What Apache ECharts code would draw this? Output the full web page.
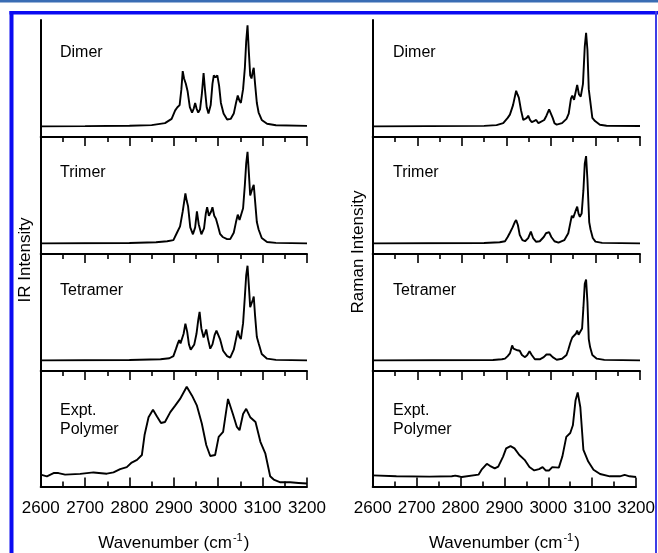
<!DOCTYPE html>
<html>
<head>
<meta charset="utf-8">
<script src="https://cdn.jsdelivr.net/npm/echarts@6/dist/echarts.min.js"></script>
<style>
  html, body { margin: 0; padding: 0; background: #fff; }
  #chart { width: 658px; height: 553px; }
</style>
</head>
<body>
<div id="chart"></div>
<script>
// Wavenumber axis (cm^-1)
const xMin = 2600;
const xMax = 3200;
const xStep = 100;

const panelNames = ['Dimer', 'Trimer', 'Tetramer', 'Expt.\nPolymer'];
const yTitles = ['IR Intensity', 'Raman Intensity'];
const xTitle = 'Wavenumber (cm';
const xTitleSup = '-1';

// Computed IR spectra: [wavenumber, intensity]
const irDimer = [
  [2600,0],[2700,0.002],[2800,0.006],[2850,0.012],[2880,0.03],[2895,0.07],[2903,0.15],[2908,0.18],
  [2913,0.2],[2917,0.35],[2920,0.52],[2923,0.45],[2927,0.40],[2931,0.33],[2936,0.18],[2941,0.13],
  [2945,0.17],[2948,0.22],[2951,0.17],[2955,0.13],[2959,0.16],[2963,0.30],[2967,0.50],[2970,0.35],
  [2974,0.18],[2978,0.12],[2983,0.2],[2987,0.40],[2990,0.48],[2994,0.46],[2998,0.48],[3002,0.38],
  [3006,0.22],[3012,0.12],[3020,0.065],[3028,0.07],[3035,0.12],[3040,0.22],[3044,0.29],[3048,0.24],
  [3051,0.22],[3056,0.35],[3060,0.55],[3063,0.80],[3066,0.95],[3069,0.70],[3072,0.48],[3075,0.45],
  [3078,0.52],[3080,0.55],[3083,0.40],[3087,0.22],[3091,0.13],[3098,0.06],[3110,0.025],[3130,0.01],[3200,0.005]
];
const irTrimer = [
  [2600,0],[2800,0.004],[2860,0.01],[2885,0.02],[2899,0.03],[2907,0.10],[2914,0.16],[2920,0.3],
  [2926,0.47],[2929,0.40],[2932,0.35],[2937,0.15],[2943,0.085],[2948,0.15],[2952,0.30],[2956,0.18],
  [2962,0.085],[2968,0.14],[2972,0.28],[2975,0.34],[2979,0.26],[2981,0.26],[2984,0.3],[2987,0.34],
  [2991,0.26],[2995,0.23],[2999,0.17],[3004,0.09],[3010,0.06],[3020,0.04],[3027,0.04],[3035,0.1],
  [3040,0.2],[3044,0.27],[3048,0.22],[3051,0.21],[3056,0.33],[3060,0.55],[3063,0.75],[3066,0.86],
  [3069,0.66],[3072,0.45],[3075,0.45],[3078,0.53],[3080,0.55],[3083,0.4],[3087,0.2],[3091,0.13],
  [3098,0.05],[3110,0.013],[3130,0.005],[3200,0]
];
const irTetramer = [
  [2600,0],[2800,0.003],[2870,0.01],[2890,0.02],[2899,0.04],[2905,0.11],[2909,0.16],[2912,0.19],
  [2915,0.16],[2918,0.15],[2922,0.25],[2926,0.345],[2930,0.27],[2934,0.15],[2938,0.1],[2941,0.095],
  [2946,0.15],[2951,0.25],[2955,0.38],[2958,0.455],[2962,0.3],[2967,0.215],[2970,0.25],[2973,0.29],
  [2977,0.2],[2982,0.11],[2987,0.15],[2992,0.24],[2996,0.28],[3000,0.28],[3004,0.2],[3011,0.09],
  [3020,0.04],[3027,0.025],[3035,0.1],[3040,0.2],[3044,0.28],[3048,0.22],[3051,0.2],[3056,0.35],
  [3060,0.6],[3063,0.8],[3066,0.89],[3069,0.7],[3072,0.5],[3075,0.5],[3078,0.57],[3080,0.6],
  [3083,0.42],[3087,0.22],[3091,0.16],[3098,0.06],[3110,0.016],[3130,0.005],[3200,0]
];
// Measured IR spectrum of the polymer
const irPolymer = [
  [2600,0.013],[2614,-0.003],[2629,0.028],[2640,0.028],[2655,0.013],[2689,0.02],[2719,0.034],
  [2749,0.022],[2764,0.034],[2779,0.066],[2794,0.085],[2805,0.128],[2817,0.154],[2828,0.2],
  [2834,0.39],[2843,0.56],[2853,0.63],[2862,0.567],[2871,0.505],[2880,0.514],[2892,0.608],
  [2903,0.67],[2914,0.734],[2929,0.85],[2941,0.765],[2952,0.67],[2963,0.5],[2973,0.295],
  [2982,0.19],[2993,0.2],[3001,0.373],[3011,0.42],[3022,0.734],[3033,0.59],[3042,0.467],
  [3048,0.436],[3056,0.59],[3063,0.64],[3072,0.56],[3084,0.514],[3095,0.326],[3106,0.216],
  [3117,-0.003],[3125,-0.034],[3140,-0.06],[3162,-0.06],[3181,-0.066],[3200,-0.072]
];

// Computed Raman spectra: [wavenumber, intensity]
const ramanDimer = [
  [2600,0],[2850,0.005],[2878,0.012],[2893,0.03],[2903,0.08],[2908,0.11],[2915,0.2],[2922,0.335],
  [2925,0.3],[2928,0.27],[2933,0.15],[2938,0.06],[2942,0.05],[2946,0.08],[2949,0.10],[2953,0.06],
  [2957,0.04],[2962,0.05],[2967,0.06],[2972,0.03],[2976,0.025],[2985,0.06],[2990,0.1],[2996,0.16],
  [2999,0.15],[3004,0.08],[3008,0.03],[3013,0.016],[3025,0.03],[3035,0.07],[3040,0.12],[3045,0.26],
  [3048,0.29],[3052,0.25],[3056,0.33],[3059,0.39],[3063,0.3],[3067,0.28],[3072,0.4],[3076,0.75],
  [3079,0.88],[3082,0.72],[3085,0.35],[3088,0.25],[3093,0.08],[3099,0.05],[3110,0.015],[3125,0.006],[3200,0.004]
];
const ramanTrimer = [
  [2600,0],[2850,0.003],[2885,0.01],[2897,0.02],[2903,0.06],[2908,0.10],[2914,0.15],[2919,0.2],
  [2922,0.22],[2926,0.17],[2930,0.08],[2936,0.03],[2942,0.02],[2949,0.05],[2955,0.11],[2960,0.05],
  [2967,0.015],[2975,0.02],[2984,0.06],[2989,0.095],[2992,0.085],[2996,0.105],[3001,0.06],[3008,0.02],
  [3017,0.006],[3030,0.03],[3039,0.095],[3044,0.2],[3047,0.26],[3050,0.24],[3055,0.3],[3059,0.345],
  [3062,0.28],[3065,0.25],[3069,0.28],[3073,0.5],[3076,0.75],[3079,0.82],[3082,0.6],[3086,0.2],
  [3089,0.13],[3094,0.05],[3100,0.016],[3115,0.005],[3200,0]
];
const ramanTetramer = [
  [2600,0],[2870,0.003],[2890,0.01],[2897,0.016],[2903,0.04],[2908,0.065],[2913,0.14],[2916,0.11],
  [2920,0.095],[2925,0.095],[2930,0.09],[2935,0.05],[2942,0.03],[2947,0.05],[2952,0.085],[2957,0.05],
  [2964,0.01],[2975,0.01],[2984,0.03],[2990,0.055],[2994,0.05],[2998,0.055],[3004,0.03],[3013,0.006],
  [3025,0.015],[3035,0.05],[3039,0.1],[3044,0.17],[3048,0.215],[3052,0.205],[3056,0.25],[3059,0.28],
  [3062,0.24],[3065,0.23],[3070,0.3],[3073,0.5],[3076,0.72],[3079,0.76],[3082,0.55],[3085,0.2],
  [3088,0.125],[3093,0.05],[3103,0.016],[3120,0.005],[3200,0]
];
// Measured Raman spectrum of the polymer
const ramanPolymer = [
  [2600,0.006],[2654,-0.003],[2729,-0.006],[2780,-0.002],[2788,0.004],[2795,-0.002],[2803,-0.01],
  [2841,0.013],[2848,0.06],[2860,0.116],[2867,0.097],[2878,0.072],[2886,0.09],[2897,0.185],
  [2904,0.263],[2914,0.285],[2923,0.263],[2934,0.2],[2946,0.154],[2957,0.085],[2968,0.053],
  [2979,0.066],[2987,0.085],[2994,0.053],[3002,0.053],[3009,0.085],[3024,0.08],[3032,0.185],
  [3041,0.373],[3050,0.41],[3056,0.483],[3062,0.718],[3067,0.796],[3073,0.655],[3080,0.248],
  [3091,0.138],[3103,0.06],[3118,0.019],[3140,-0.003],[3163,-0.003],[3174,0.01],[3185,-0.003],[3200,-0.01]
];

const columns = [
  [irDimer, irTrimer, irTetramer, irPolymer],
  [ramanDimer, ramanTrimer, ramanTetramer, ramanPolymer]
];

const FONT = '"Liberation Sans", Arial, Helvetica, sans-serif';
const colLeft = [40.7, 372.7];
const colWidth = [266.3, 267.3];
const rowTop = [20, 137, 254, 371];
const rowHeight = 117;

const grid = [], xAxis = [], yAxis = [], series = [];
columns.forEach((col, c) => {
  col.forEach((data, r) => {
    const i = grid.length;
    const last = r === col.length - 1;
    grid.push({ left: colLeft[c], width: colWidth[c], top: rowTop[r], height: rowHeight });
    xAxis.push({
      gridIndex: i, type: 'value', min: xMin, max: xMax, interval: xStep,
      axisLine: { show: true, onZero: false, lineStyle: { color: '#000', width: 2 } },
      axisTick: { show: true, inside: last, length: 9, lineStyle: { color: '#000', width: 1.6 } },
      minorTick: { show: true, splitNumber: 2, length: 5, lineStyle: { color: '#000', width: 1.6 } },
      splitLine: { show: false },
      axisLabel: {
        show: last, color: '#000', fontSize: 17, fontFamily: FONT, margin: 13,
        formatter: (v) => String(v)
      },
      name: last ? '{a|' + xTitle + '}{s|' + xTitleSup + '}{a|)}' : '',
      nameLocation: 'middle', nameGap: 46,
      nameTextStyle: {
        rich: {
          a: { fontSize: 17, fontFamily: FONT, color: '#000' },
          s: { fontSize: 11, fontFamily: FONT, color: '#000', padding: [0, 1, 11, 1] }
        }
      }
    });
    yAxis.push({
      gridIndex: i, type: 'value', min: -0.1, max: 1.0,
      axisLine: { show: true, lineStyle: { color: '#000', width: 2 } },
      axisTick: { show: false }, axisLabel: { show: false }, splitLine: { show: false }
    });
    series.push({
      type: 'line', xAxisIndex: i, yAxisIndex: i, data: data,
      showSymbol: false, symbol: 'none', silent: true, animation: false,
      lineStyle: { color: '#000', width: 1.9 }
    });
  });
});

// Panel captions and intensity titles
const captionY = [53, 173, 291, 420];
const captionX = [60, 393];
const graphic = [];
captionX.forEach((x) => {
  panelNames.forEach((name, r) => {
    graphic.push({
      type: 'text', x: x, y: captionY[r],
      style: {
        text: name, font: '16px ' + FONT, fill: '#000',
        textAlign: 'left', textVerticalAlign: 'middle', align: 'left', verticalAlign: 'middle',
        lineHeight: 19
      }
    });
  });
});
[[25, 260], [358, 252]].forEach((p, c) => {
  graphic.push({
    type: 'text', x: p[0], y: p[1], rotation: Math.PI / 2,
    style: {
      text: yTitles[c], font: '17px ' + FONT, fill: '#000',
      textAlign: 'center', textVerticalAlign: 'middle', align: 'center', verticalAlign: 'middle'
    }
  });
});
// Page frame
graphic.push(
  { type: 'rect', shape: { x: 0, y: 0, width: 658, height: 2.5 }, style: { fill: '#3a6db4' }, z: 100 },
  { type: 'rect', shape: { x: 9.5, y: 11, width: 649, height: 3.5 }, style: { fill: '#0b0bf2' }, z: 100 },
  { type: 'rect', shape: { x: 9.5, y: 11, width: 4, height: 542 }, style: { fill: '#0b0bf2' }, z: 100 },
  { type: 'rect', shape: { x: 655, y: 11, width: 2, height: 542 }, style: { fill: '#3d3de6' }, z: 100 }
);

const chart = echarts.init(document.getElementById('chart'), null, { renderer: 'canvas' });
chart.setOption({
  animation: false,
  backgroundColor: '#fff',
  grid, xAxis, yAxis, series, graphic
});
</script>
</body>
</html>
